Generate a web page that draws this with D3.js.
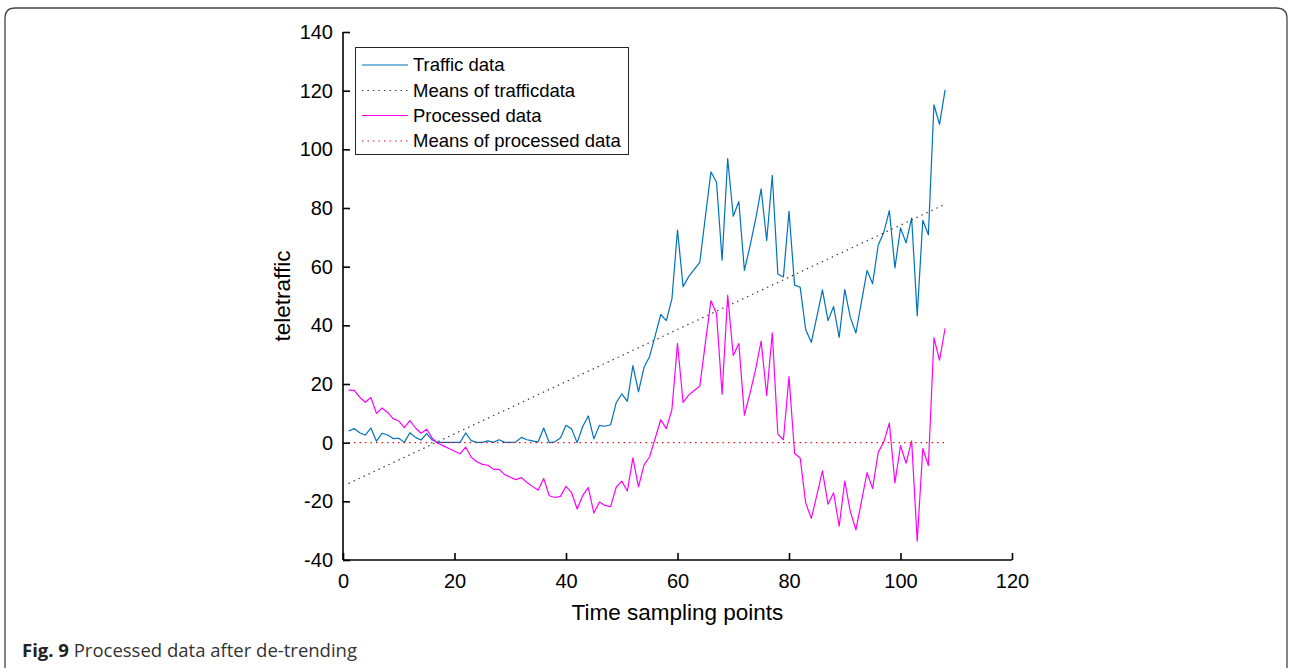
<!DOCTYPE html>
<html>
<head>
<meta charset="utf-8">
<script src="https://cdn.jsdelivr.net/npm/d3@7"></script>
<style>
  html, body { margin: 0; padding: 0; background: #fff; }
  svg { display: block; }
</style>
</head>
<body>
<svg id="chart" width="1290" height="670"></svg>
<script>
// ---------------- data ----------------
const sampleIndex = d3.range(1, 109); // time sampling points 1..108

const trafficData = [
  4.0, 4.8, 3.4, 2.6, 5.0, 0.5, 3.2, 2.6, 1.4, 1.5,
  0.1, 3.4, 1.8, 0.9, 3.1, 0.9, 0.1, 0.1, 0.1, 0.1,
  0.1, 3.3, 0.7, 0.1, 0.1, 0.6, 0.1, 1.0, 0.1, 0.1,
  0.2, 1.8, 1.0, 0.6, 0.2, 5.0, 0.0, 0.3, 1.6, 5.9,
  4.7, 0.0, 5.5, 9.1, 1.3, 5.9, 5.6, 6.1, 13.6, 16.6,
  14.1, 26.3, 17.3, 25.7, 29.4, 36.5, 43.7, 41.6, 49.0, 72.5,
  53.2, 56.6, 59.1, 61.5, 77.0, 92.3, 88.8, 62.2, 96.8, 77.2,
  82.2, 58.7, 67.0, 76.0, 86.5, 68.9, 91.1, 57.5, 56.5, 78.9,
  53.7, 53.0, 38.5, 34.2, 43.0, 52.1, 41.6, 46.4, 35.9, 52.2,
  42.7, 37.4, 48.0, 58.7, 54.2, 67.3, 71.7, 79.1, 59.6, 73.2,
  68.1, 76.6, 43.3, 75.8, 70.9, 115.2, 108.5, 120.3
];

const processedData = [
  17.9, 17.8, 15.5, 13.8, 15.4, 10.0, 11.8, 10.3, 8.2, 7.4,
  5.1, 7.5, 5.0, 3.2, 4.6, 1.5, -0.2, -1.1, -2.0, -2.9,
  -3.8, -1.5, -5.0, -6.5, -7.4, -7.7, -9.1, -9.1, -10.9, -11.8,
  -12.6, -11.9, -13.6, -14.9, -16.2, -12.2, -18.1, -18.7, -18.3, -14.9,
  -17.0, -22.6, -18.0, -15.3, -24.0, -20.2, -21.4, -21.8, -15.2, -13.1,
  -16.5, -5.2, -15.1, -7.6, -4.8, 1.5, 7.8, 4.8, 11.3, 33.9,
  13.7, 16.2, 17.8, 19.3, 34.0, 48.4, 44.0, 16.5, 50.2, 29.7,
  33.8, 9.4, 16.8, 24.9, 34.6, 16.1, 37.4, 2.9, 1.0, 22.5,
  -3.6, -5.2, -20.6, -25.8, -17.9, -9.6, -21.0, -17.1, -28.5, -13.1,
  -23.5, -29.7, -20.0, -10.2, -15.6, -3.3, 0.2, 6.7, -13.7, -1.0,
  -7.0, 0.6, -33.6, -2.0, -7.8, 35.7, 28.1, 39.0
];

// means (straight lines, given by their end points)
const meanX = [1, 108];
const meanTraffic = [-13.9, 81.3];
const meanProcessed = [0, 0];

const xTicks = [0, 20, 40, 60, 80, 100, 120];
const yTicks = [-40, -20, 0, 20, 40, 60, 80, 100, 120, 140];

const legendLabels = ["Traffic data", "Means of trafficdata", "Processed data", "Means of processed data"];

// ---------------- drawing ----------------
const svg = d3.select("#chart");
const FONT = "'Liberation Sans', Arial, Helvetica, sans-serif";

// figure frame (rounded box)
svg.append("path")
  .attr("d", "M5,668 L5,18 Q5,8 15,8 L1276,8 Q1287,8 1287,18 L1287,668")
  .attr("fill", "none")
  .attr("stroke", "#444")
  .attr("stroke-width", 1.3);

const x = d3.scaleLinear().domain([0, 120]).range([343, 1012]);
const y = d3.scaleLinear().domain([-40, 140]).range([560, 32]);

const plainFmt = d => String(d); // hyphen-minus like the reference

// axes (ticks inward)
const xAxis = svg.append("g")
  .attr("transform", `translate(0,${y(-40)})`)
  .call(d3.axisBottom(x).tickValues(xTicks).tickSize(-7).tickPadding(14).tickFormat(plainFmt));
const yAxis = svg.append("g")
  .attr("transform", `translate(${x(0)},0)`)
  .call(d3.axisLeft(y).tickValues(yTicks).tickSize(-7).tickPadding(10).tickFormat(plainFmt));

[xAxis, yAxis].forEach(g => {
  g.select(".domain").attr("stroke", "#000").attr("stroke-width", 1.6);
  g.selectAll(".tick line").attr("stroke", "#000").attr("stroke-width", 1.6);
  g.selectAll(".tick text")
    .attr("fill", "#000")
    .style("font-family", FONT)
    .style("font-size", "20px");
});
xAxis.select(".domain").attr("d", `M${x(0)},0H${x(120)}`);
yAxis.select(".domain").attr("d", `M0,${y(-40)}V${y(140)}`);

// axis titles
svg.append("text")
  .attr("x", (x(0) + x(120)) / 2)
  .attr("y", 620)
  .attr("text-anchor", "middle")
  .style("font-family", FONT)
  .style("font-size", "22.5px")
  .attr("fill", "#000")
  .text("Time sampling points");

svg.append("text")
  .attr("transform", `translate(290,${(y(-40) + y(140)) / 2}) rotate(-90)`)
  .attr("text-anchor", "middle")
  .style("font-family", FONT)
  .style("font-size", "22.5px")
  .attr("fill", "#000")
  .text("teletraffic");

// series
const line = d3.line().x(d => x(d[0])).y(d => y(d[1]));

const trafficPts = sampleIndex.map((t, i) => [t, trafficData[i]]);
const processedPts = sampleIndex.map((t, i) => [t, processedData[i]]);
const meanTrafficPts = meanX.map((t, i) => [t, meanTraffic[i]]);
const meanProcessedPts = meanX.map((t, i) => [t, meanProcessed[i]]);

const styles = [
  { color: "#0072BD", dash: null },
  { color: "#333333", dash: "1.4,4.1" },
  { color: "#FF00FF", dash: null },
  { color: "#FF0000", dash: "1.4,4.1" }
];

function drawSeries(pts, st) {
  svg.append("path")
    .datum(pts)
    .attr("d", line)
    .attr("fill", "none")
    .attr("stroke", st.color)
    .attr("stroke-width", 1.2)
    .attr("stroke-linejoin", "round")
    .attr("stroke-dasharray", st.dash);
}

drawSeries(trafficPts, styles[0]);
drawSeries(meanTrafficPts, styles[1]);
drawSeries(processedPts, styles[2]);
drawSeries(meanProcessedPts, styles[3]);

// legend
const lg = svg.append("g");
lg.append("rect")
  .attr("x", 355.5).attr("y", 47.5)
  .attr("width", 273).attr("height", 107)
  .attr("fill", "#fff")
  .attr("stroke", "#262626")
  .attr("stroke-width", 1);

const rowY = [65, 90.5, 115.5, 141];
legendLabels.forEach((lab, i) => {
  lg.append("line")
    .attr("x1", 362).attr("x2", 408)
    .attr("y1", rowY[i]).attr("y2", rowY[i])
    .attr("stroke", styles[i].color)
    .attr("stroke-width", 1.2)
    .attr("stroke-dasharray", styles[i].dash);
  lg.append("text")
    .attr("x", 413)
    .attr("y", rowY[i])
    .attr("dy", "0.35em")
    .style("font-family", FONT)
    .style("font-size", "18.5px")
    .attr("fill", "#000")
    .text(lab);
});

// caption
const cap = svg.append("text")
  .attr("x", 22)
  .attr("y", 657)
  .style("font-family", "'Open Sans', 'Noto Sans', sans-serif")
  .style("font-size", "18.5px")
  .attr("fill", "#333");
cap.append("tspan").style("font-weight", "bold").attr("fill", "#222").text("Fig. 9");
cap.append("tspan").text(" Processed data after de-trending");
</script>
</body>
</html>
